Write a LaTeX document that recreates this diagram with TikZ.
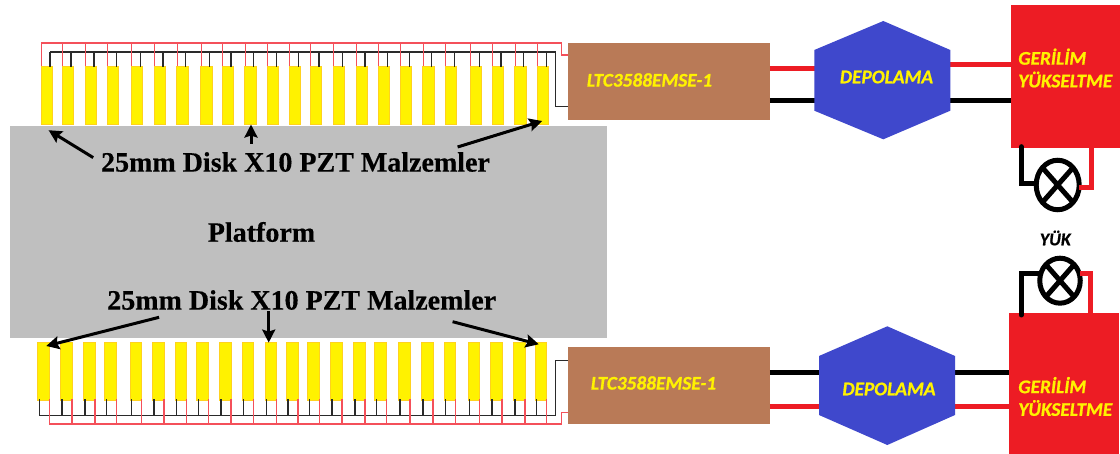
\documentclass[tikz,border=0pt]{standalone}
\usepackage{fontspec}
\setmainfont{Liberation Serif}[BoldFeatures={FakeBold=0.4}]
\newfontfamily\lblfont{Carlito}[BoldItalicFeatures={FakeBold=0.8}]
\usetikzlibrary{arrows.meta,calc,shapes.geometric}
\definecolor{paintyellow}{HTML}{FFF200}
\definecolor{paintgold}{HTML}{FFD21E}
\definecolor{paintbrown}{HTML}{B97A57}
\definecolor{paintblue}{HTML}{3F48CC}
\definecolor{paintred}{HTML}{ED1C24}
\definecolor{platgrey}{HTML}{BFBFBF}
\definecolor{thinred}{HTML}{F4505A}
\definecolor{thinblack}{HTML}{2A2A2A}
\tikzset{
  every node/.style={inner sep=0pt,outer sep=0pt},
  pzt/.style={rectangle,fill=paintyellow,draw=paintgold,line width=.6pt,minimum width=11.4pt,minimum height=58.5pt,anchor=north west},
  pzb/.style={pzt,minimum width=11.6pt},
  tred/.style={thinred,line width=1.3pt},
  tblk/.style={thinblack,line width=1.2pt},
  ltc/.style={rectangle,fill=paintbrown,minimum width=201.5pt},
  boost/.style={rectangle,fill=paintred,anchor=north west},
  hexfill/.style={fill=paintblue},
  plat/.style={rectangle,fill=platgrey,anchor=north west,minimum width=597pt,minimum height=212.5pt},
  wr/.style={paintred,line width=5pt},
  wb/.style={black,line width=5pt},
  lampw/.style={line width=5pt,black},
  arr/.style={-{Stealth[length=13pt,width=13pt,inset=2pt]},black,line width=3pt},
  big/.style={font=\bfseries\fontsize{28}{28}\selectfont,text=black},
  plabel/.style={font=\bfseries\fontsize{28}{28}\selectfont,text=black},
  lbl/.style={font=\lblfont\bfseries\itshape\fontsize{19.3}{19.3}\selectfont,text=paintyellow,align=left},
  yuk/.style={font=\lblfont\bfseries\itshape\fontsize{18}{18}\selectfont,text=black},
}
\begin{document}
\begin{tikzpicture}[x=1pt,y=-1pt]
\useasboundingbox (0,0) rectangle (1120,454);
\fill[white] (0,0) rectangle (1120,454);

% platform
\node[plat] (platform) at (10,126) {};
\node[plabel] (platlabel) at (261.5,232) {Platform};

% top bars
\foreach \x [count=\i] in {41,62,85,107.3,131.3,154,176.7,200.7,222,244.7,267.3,289.3,310,333.3,356,378.3,400.3,422.7,445.3,470.3,492,514.7,537.3}
  \node[pzt] (t\i) at (\x,66) {};
% bottom bars
\foreach \x [count=\i] in {37.7,60.3,83.3,104.7,130,152.3,175,196.7,219.3,242,265,286.3,307.7,330.3,353.3,374.7,398.3,421.3,444,468,490.3,513.3,535}
  \node[pzb] (b\i) at (\x,342) {};

% modules
\node[ltc,minimum height=77.5pt] (ltcT) at (669.2,81.5) {};
\node[ltc,minimum height=77pt] (ltcB) at (669.2,385.5) {};
\node[lbl] (ltcTl) at (649.5,80) {LTC3588EMSE-1};
\node[lbl] (ltcBl) at (653.5,383) {LTC3588EMSE-1};

% bus coordinates
\coordinate (busTR) at (0,43);
\coordinate (busTB) at (0,52);
\coordinate (busBB) at (0,415.7);
\coordinate (busBR) at (0,424);
\coordinate (cTR1) at (561.7,43);
\coordinate (cTB1) at (555.7,52);
\coordinate (cBB1) at (555.7,415.7);
\coordinate (cBR1) at (561.7,424);

% top wiring
\draw[tblk] ([xshift=9pt]t1.north west |- busTB) -- (cTB1) -- (cTB1 |- 0,106.7) -- (ltcT.west |- 0,106.7);
\draw[tred] (t1.north west |- busTR) -- (cTR1) -- (cTR1 |- 0,55) -- (ltcT.west |- 0,55);
\foreach \i in {1,...,23}{
  \draw[tblk] ([xshift=9pt,yshift=-1pt]t\i.north west) -- ([xshift=9pt]t\i.north west |- busTB);
  \draw[tred] ([xshift=.5pt]t\i.north west) -- ([xshift=.5pt]t\i.north west |- busTR);
}
% bottom wiring
\draw[tblk] ([xshift=1.6pt]b1.south west |- busBB) -- (cBB1) -- (cBB1 |- 0,360.7) -- (ltcB.west |- 0,360.7);
\draw[tred] ([xshift=0pt]b1.south east |- busBR) -- (cBR1) -- (cBR1 |- 0,412.3) -- (ltcB.west |- 0,412.3);
\foreach \i in {1,...,23}{
  \draw[tblk] ([xshift=1.6pt,yshift=1pt]b\i.south west) -- ([xshift=1.6pt]b\i.south west |- busBB);
  \draw[tred] ([yshift=1pt]b\i.south east) -- (b\i.south east |- busBR);
}

% boost converters
\node[boost,minimum width=108.7pt,minimum height=142.4pt] (boostT) at (1011.3,5.3) {};
\node[boost,minimum width=109.7pt,minimum height=140.7pt] (boostB) at (1009,313.3) {};
\node[lbl] (boostTl) at (1018.3,68) [anchor=west,align=left] {GERİLİM\\[3.4pt]YÜKSELTME};
\node[lbl] (boostBl) at (1018.3,396.5) [anchor=west,align=left] {GERİLİM\\[3.4pt]YÜKSELTME};

% storage hexagons: anchors
\node (hexT) at (882.3,80) {};
\node (hexB) at (887,386) {};

% power wires
\draw[wr] (ltcT.east |- 0,68.3) -- (hexT.center |- 0,68.3);
\draw[wb] (ltcT.east |- 0,100.3) -- (hexT.center |- 0,100.3);
\draw[wr] (hexT.center |- 0,64.3) -- (boostT.west |- 0,64.3);
\draw[wb] (hexT.center |- 0,100.3) -- (boostT.west |- 0,100.3);
\draw[wb] (ltcB.east |- 0,372.3) -- (hexB.center |- 0,372.3);
\draw[wr] (ltcB.east |- 0,406.3) -- (hexB.center |- 0,406.3);
\draw[wb] (hexB.center |- 0,372.3) -- (boostB.west |- 0,372.3);
\draw[wr] (hexB.center |- 0,407) -- (boostB.west |- 0,407);

\fill[hexfill] (814.3,50) -- (883.3,21) -- (950.3,50) -- (950.3,110.7) -- (883.3,139.3) -- (814.3,110.7) -- cycle;
\fill[hexfill] (819,356) -- (887.3,326.3) -- (955,356) -- (955,415) -- (887.3,445) -- (819,415) -- cycle;
\node[lbl] (hexTl) at (886.5,77) {DEPOLAMA};
\node[lbl] (hexBl) at (889,389) {DEPOLAMA};

% lamps
\node[draw=black,line width=5pt,ellipse,minimum width=43pt,minimum height=49.5pt] (lampT) at (1057.7,185) {};
\node[draw=black,line width=5pt,ellipse,minimum width=40.5pt,minimum height=45pt] (lampB) at (1060,280.7) {};
\draw[lampw] ($(lampT.center)+(-15,-17)$) -- ($(lampT.center)+(15,17)$);
\draw[lampw] ($(lampT.center)+(15,-17)$) -- ($(lampT.center)+(-15,17)$);
\draw[lampw] ($(lampB.center)+(-14,-16)$) -- ($(lampB.center)+(14,16)$);
\draw[lampw] ($(lampB.center)+(14,-16)$) -- ($(lampB.center)+(-14,16)$);
\node[yuk] (yuk) at (1055.3,238) {YÜK};

\coordinate (ltA) at (1021.3,146.7);
\coordinate (ltB) at (1091.7,147.7);
\coordinate (lbA) at (1021.3,315);
\coordinate (lbB) at (1090.7,313.3);
\draw[lampw,line cap=round] (ltA) -- (ltA |- 0,183.3) -- (lampT.west |- 0,183.3);
\draw[wr] (ltB) -- (ltB |- 0,187.3) -- (lampT.east |- 0,187.3);
\draw[lampw,line cap=round] (lbA) -- (lbA |- 0,273.3) -- (lampB.west |- 0,273.3);
\draw[wr] (lbB) -- (lbB |- 0,274) -- (lampB.east |- 0,274);

% labels and arrows
\node[big] (topl) at (295.5,162) {25mm Disk X10 PZT Malzemler};
\node[big] (botl) at (301.7,300) {25mm Disk X10 PZT Malzemler};
\coordinate (a1s) at (93.2,157.6); \coordinate (a1e) at (48.6,130.2);
\coordinate (a2s) at (251,143.7);  \coordinate (a2e) at (251,124.5);
\coordinate (a3s) at (457.6,147);  \coordinate (a3e) at (542.2,121);
\coordinate (a4s) at (159.1,317.3);\coordinate (a4e) at (46.2,346);
\coordinate (a5s) at (268.7,311.5);\coordinate (a5e) at (268.7,342.6);
\coordinate (a6s) at (452.6,321.7);\coordinate (a6e) at (538.8,344.3);
\foreach \n in {1,...,6} \draw[arr] (a\n s) -- (a\n e);
\end{tikzpicture}
\end{document}
